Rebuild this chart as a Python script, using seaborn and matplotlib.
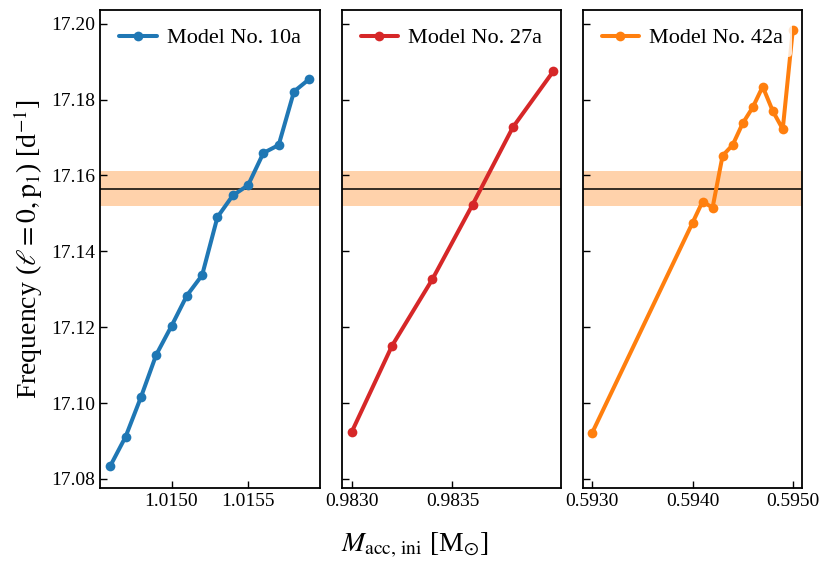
import numpy as np
import pandas as pd
import matplotlib
matplotlib.use("Agg")
import matplotlib.pyplot as plt
import seaborn as sns

# data
mass_10a = [1.0146, 1.0147, 1.0148, 1.0149, 1.0150, 1.0151, 1.0152,
            1.0153, 1.0154, 1.0155, 1.0156, 1.0157, 1.0158, 1.0159]
freq_10a = [17.0834, 17.0911, 17.1015, 17.1127, 17.1203, 17.1283, 17.1337,
            17.1490, 17.1547, 17.1574, 17.1659, 17.1680, 17.1821, 17.1854]

mass_27a = [0.9830, 0.9832, 0.9834, 0.9836, 0.9838, 0.9840]
freq_27a = [17.0924, 17.1151, 17.1326, 17.1523, 17.1727, 17.1874]

mass_42a = [0.5930, 0.5940, 0.5941, 0.5942, 0.5943, 0.5944, 0.5945,
            0.5946, 0.5947, 0.5948, 0.5949, 0.5950]
freq_42a = [17.0922, 17.1475, 17.1531, 17.1515, 17.1652, 17.1680, 17.1737,
            17.1779, 17.1834, 17.1770, 17.1722, 17.1983]

models = ["Model No. 10a", "Model No. 27a", "Model No. 42a"]
colors = ["tab:blue", "tab:red", "tab:orange"]
xticks = [[1.0150, 1.0155], [0.9830, 0.9835], [0.5930, 0.5940, 0.5950]]
xlims = [(1.014533, 1.015967), (0.98295, 0.98404), (0.592904, 0.595094)]

obs_freq = 17.1565
obs_err = 0.0047

sns.set_style("ticks")
plt.rcParams["font.family"] = ["Liberation Serif", "DejaVu Serif"]
plt.rcParams["mathtext.fontset"] = "stix"
plt.rcParams["xtick.direction"] = "in"
plt.rcParams["ytick.direction"] = "in"
plt.rcParams["axes.linewidth"] = 1.3
plt.rcParams["axes.edgecolor"] = "black"
plt.rcParams["xtick.color"] = "black"
plt.rcParams["ytick.color"] = "black"
plt.rcParams["text.color"] = "black"
plt.rcParams["axes.labelcolor"] = "black"

fig = plt.figure(figsize=(8.3, 5.71), dpi=100)
lefts = [0.1205, 0.4117, 0.702]
axes = [fig.add_axes([l, 0.1454, 0.2645, 0.8371]) for l in lefts]

series = [(mass_10a, freq_10a), (mass_27a, freq_27a), (mass_42a, freq_42a)]
for i, ax in enumerate(axes):
    m, f = series[i]
    df = pd.DataFrame({"mass": m, "freq": f})
    ax.axhspan(obs_freq - obs_err, obs_freq + obs_err, color="tab:orange",
               alpha=0.35, lw=0, zorder=0)
    ax.axhline(obs_freq, color="black", lw=1.1, zorder=1)
    sns.lineplot(data=df, x="mass", y="freq", ax=ax, color=colors[i],
                 marker="o", markersize=7, mec=colors[i], mew=0,
                 lw=2.9, label=models[i], zorder=3)
    ax.set_xlim(*xlims[i])
    ax.set_ylim(17.0776, 17.2036)
    ax.set_xticks(xticks[i])
    ax.set_xticklabels([f"{t:.4f}" for t in xticks[i]])
    ax.set_yticks([17.08, 17.10, 17.12, 17.14, 17.16, 17.18, 17.20])
    ax.tick_params(labelsize=14, length=5, width=1)
    ax.set_xlabel("")
    ax.set_ylabel("")
    leg = ax.legend(loc="upper center", fontsize=16, frameon=True,
                    framealpha=0.8, edgecolor="none", handlelength=1.7,
                    handletextpad=0.45, borderaxespad=0.4)
    leg.set_zorder(5)
    if i > 0:
        ax.set_yticklabels([])
    else:
        ax.set_yticklabels([f"{t:.2f}" for t in ax.get_yticks()])

axes[0].set_ylabel(r"Frequency ($\ell=0,\mathrm{p}_1$) [d$^{-1}$]", fontsize=20)
fig.text(0.5, 0.02, r"$M_{\rm acc,\,ini}$ [M$_{\odot}$]", fontsize=20,
         ha="center", va="bottom")

fig.savefig("out.png", dpi=100)
